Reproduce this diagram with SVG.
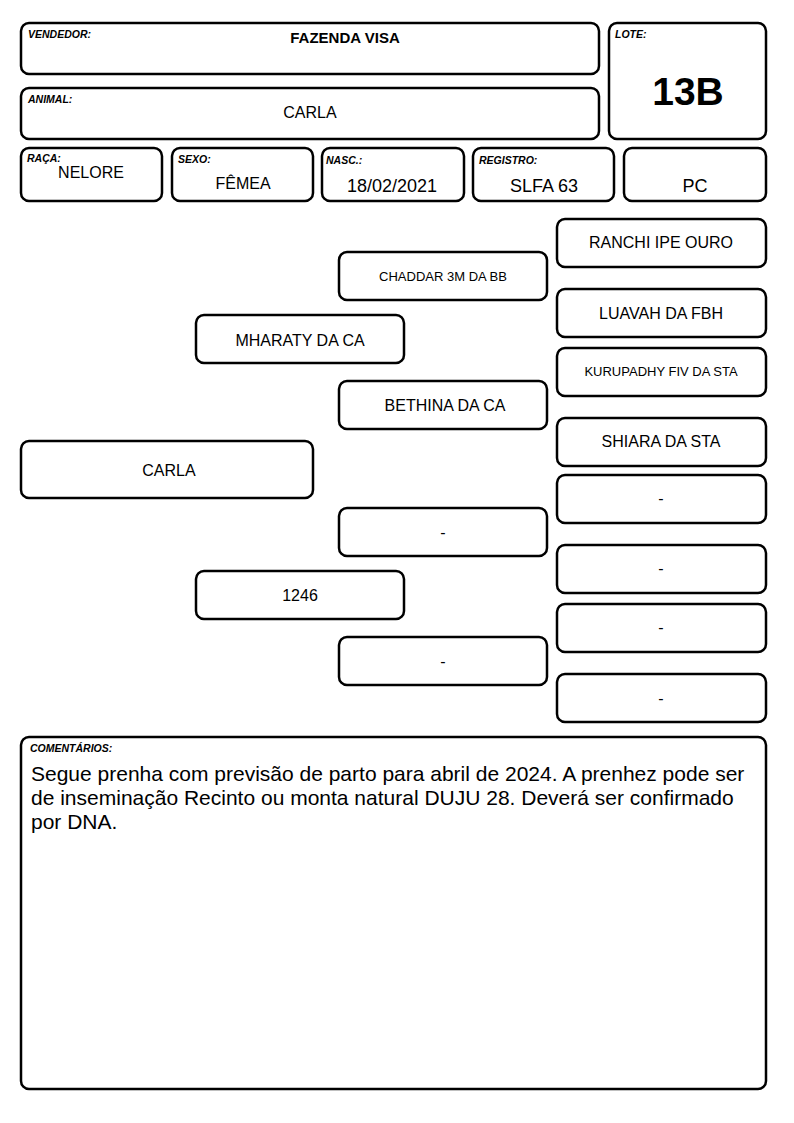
<svg xmlns="http://www.w3.org/2000/svg" width="794" height="1123" viewBox="0 0 794 1123" font-family="'Liberation Sans', Arial, sans-serif">
<style>
rect{fill:#fff;stroke:#000;stroke-width:2.5}
text{font-family:'Liberation Sans',Arial,sans-serif;fill:#000}
.lbl{font-size:10.5px;font-weight:bold;font-style:italic}
.v{font-size:16px;text-anchor:middle}
.s{font-size:13px;text-anchor:middle}
.m{font-size:18px;text-anchor:middle}
.c{font-size:21px}
</style>
<rect width="794" height="1123" style="fill:#fff;stroke:none"/>
<g id="vendedor"><rect x="21" y="23" width="578" height="51" rx="8"/><text class="lbl" x="28" y="38">VENDEDOR:</text><text x="345" y="43" style="font-size:15px;font-weight:bold;text-anchor:middle">FAZENDA VISA</text></g>
<g id="animal"><rect x="21" y="88" width="578" height="51" rx="8"/><text class="lbl" x="28" y="103">ANIMAL:</text><text class="v" x="310" y="118">CARLA</text></g>
<g id="lote"><rect x="609" y="23" width="157" height="116" rx="8"/><text class="lbl" x="615" y="38">LOTE:</text><text x="688" y="105" style="font-size:39px;font-weight:bold;text-anchor:middle">13B</text></g>
<g id="raca"><rect x="21" y="148" width="141" height="53" rx="8"/><text class="lbl" x="27" y="162">RAÇA:</text><text class="v" x="91" y="178">NELORE</text></g>
<g id="sexo"><rect x="172" y="148" width="141" height="53" rx="8"/><text class="lbl" x="178" y="163">SEXO:</text><text class="v" x="243" y="189">FÊMEA</text></g>
<g id="nasc"><rect x="322" y="148" width="142" height="53" rx="8"/><text class="lbl" x="326" y="164">NASC.:</text><text class="m" x="392" y="192">18/02/2021</text></g>
<g id="registro"><rect x="473" y="148" width="141" height="53" rx="8"/><text class="lbl" x="479" y="164">REGISTRO:</text><text class="m" x="544" y="192">SLFA 63</text></g>
<g id="pc"><rect x="624" y="148" width="142" height="53" rx="8"/><text class="m" x="695" y="192">PC</text></g>

<g id="p0"><rect x="21" y="441" width="292" height="57" rx="8"/><text class="v" x="169" y="476">CARLA</text></g>
<g id="p1"><rect x="196" y="315" width="208" height="48" rx="8"/><text class="v" x="300" y="346">MHARATY DA CA</text></g>
<g id="p2"><rect x="196" y="571" width="208" height="48" rx="8"/><text class="v" x="300" y="601">1246</text></g>
<g id="p3"><rect x="339" y="252" width="208" height="48" rx="8"/><text class="s" x="443" y="281">CHADDAR 3M DA BB</text></g>
<g id="p4"><rect x="339" y="381" width="208" height="48" rx="8"/><text class="v" x="445" y="411">BETHINA DA CA</text></g>
<g id="p5"><rect x="339" y="508" width="208" height="48" rx="8"/><text class="v" x="443" y="538">-</text></g>
<g id="p6"><rect x="339" y="637" width="208" height="48" rx="8"/><text class="v" x="443" y="667">-</text></g>
<g id="p7"><rect x="557" y="219" width="209" height="48" rx="8"/><text class="v" x="661" y="248">RANCHI IPE OURO</text></g>
<g id="p8"><rect x="557" y="289" width="209" height="48" rx="8"/><text class="v" x="661" y="319">LUAVAH DA FBH</text></g>
<g id="p9"><rect x="557" y="348" width="209" height="48" rx="8"/><text class="s" x="661" y="376">KURUPADHY FIV DA STA</text></g>
<g id="p10"><rect x="557" y="418" width="209" height="48" rx="8"/><text class="v" x="661" y="447">SHIARA DA STA</text></g>
<g id="p11"><rect x="557" y="475" width="209" height="48" rx="8"/><text class="v" x="661" y="504">-</text></g>
<g id="p12"><rect x="557" y="545" width="209" height="48" rx="8"/><text class="v" x="661" y="574">-</text></g>
<g id="p13"><rect x="557" y="604" width="209" height="48" rx="8"/><text class="v" x="661" y="633">-</text></g>
<g id="p14"><rect x="557" y="674" width="209" height="48" rx="8"/><text class="v" x="661" y="704">-</text></g>
<g id="connectors"></g>

<g id="comentarios"><rect x="21" y="737" width="745" height="352" rx="8"/><text class="lbl" x="30" y="752">COMENTÁRIOS:</text>
<text class="c" x="31" y="781">Segue prenha com previsão de parto para abril de 2024. A prenhez pode ser</text>
<text class="c" x="31" y="805">de inseminação Recinto ou monta natural DUJU 28. Deverá ser confirmado</text>
<text class="c" x="31" y="829">por DNA.</text></g>
</svg>
